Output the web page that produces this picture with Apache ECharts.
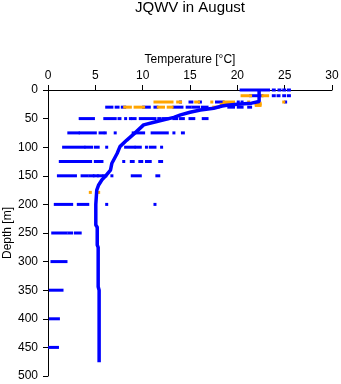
<!DOCTYPE html>
<html>
<head>
<meta charset="utf-8">
<script src="https://cdn.jsdelivr.net/npm/echarts@6/dist/echarts.min.js"></script>
<style>
html,body{margin:0;padding:0;background:#fff;}
#chart{width:341px;height:384px;}
</style>
</head>
<body>
<div id="chart"></div>
<script>
// Temperature ticks and depth ticks
const tempTicks = [0, 5, 10, 15, 20, 25, 30];
const depthTicks = [0, 50, 100, 150, 200, 250, 300, 350, 400, 450, 500];

// Blue observations: runs of points [tempStart, tempEnd, depth]
const blueRuns = [
  [20.4,23.3,0],[23.8,23.9,0],[24.4,24.5,0],[24.9,25.0,0],[25.4,25.5,0],
  [21.4,22.6,10],[23.8,23.9,10],[24.3,24.4,10],[24.9,25.0,10],[25.4,25.5,10],
  [14.0,14.0,21],[15.0,15.2,21],[16.0,16.1,21],[17.8,18.5,21],[20.1,20.1,21],[20.5,20.5,21],[22.2,22.2,21],[25.1,25.1,21],
  [6.2,6.75,30],[7.2,7.4,30],[7.85,8.1,30],[10.1,10.7,30],[11.3,11.5,30],[13.3,14.15,30],[14.7,15.0,30],[15.3,15.9,30],[16.3,16.8,30],[19.1,19.6,30],[20.1,20.5,30],[21.2,21.4,30],
  [3.4,4.8,50],[6.0,7.1,50],[7.5,7.6,50],[8.2,8.2,50],[8.7,8.7,50],[8.9,9.2,50],[9.75,10.1,50],[10.4,11.3,50],[11.7,11.85,50],[12.2,12.6,50],[13.3,13.6,50],[14.0,14.3,50],[15.0,15.4,50],[16.4,16.8,50],
  [2.2,3.2,75],[3.4,5.0,75],[5.5,5.8,75],[6.05,6.05,75],[7.1,7.1,75],[9.0,10.1,75],[11.0,12.6,75],[13.3,13.3,75],[14.2,14.3,75],
  [1.65,3.8,100],[4.0,4.6,100],[5.0,5.3,100],[6.2,6.2,100],[8.2,9.1,100],[9.3,9.75,100],[10.4,10.4,100],[10.8,11.3,100],[12.0,12.0,100],
  [1.3,3.7,125],[3.95,4.5,125],[5.0,5.7,125],[8.0,8.0,125],[8.8,9.0,125],[9.7,9.9,125],[10.4,10.8,125],[11.8,12.0,125],
  [1.1,2.9,150],[3.6,4.1,150],[4.4,4.75,150],[4.9,5.2,150],[5.35,5.7,150],[5.9,6.1,150],[6.75,6.75,150],[8.9,9.75,150],[11.5,11.7,150],
  [0.77,2.5,200],[3.2,4.2,200],[6.2,6.2,200],[11.3,11.3,200],
  [0.5,1.9,250],[2.2,2.5,250],[2.9,3.4,250],
  [0.42,1.9,300],
  [0.25,1.48,350],
  [0.25,1.1,400],
  [0.17,1.0,450]
];

// Orange observations: runs of points [tempStart, tempEnd, depth]
const orangeRuns = [
  [20.5,21.4,10],[22.7,23.2,10],
  [11.3,13.1,21],[13.7,14.0,21],[15.6,15.9,21],[17.3,17.3,21],[18.6,19.6,21],[21.2,21.2,21],[24.9,24.9,21],
  [22.0,22.4,23],[18.3,19.6,25],[22.0,22.4,25],[22.0,22.4,27],
  [8.1,8.7,30],[9.2,10.1,30],[11.65,12.2,30],[12.7,13.1,30],[17.5,18.0,30],
  [4.47,4.47,179],[5.35,5.35,179]
];

// Mean profile [temp, depth]
const profile = [
  [22.3,0],[22.3,20],[21.5,23],[20.0,25],[18.9,26.5],[18.4,28],[17.5,32],[16.1,35],[15.0,39],[14.0,43.5],
  [13.3,47.8],[11.5,55],[10.1,61],[9.2,75],[8.3,88],[7.6,99],[7.3,111],[6.75,128],[6.6,140],[6.05,151],
  [5.7,157],[5.35,166],[5.15,175],[5.05,200],[5.05,236],[5.2,240],[5.2,271],[5.3,275],[5.3,344],[5.4,350],[5.4,476]
];

const chart = echarts.init(document.getElementById('chart'), null, {renderer:'canvas'});
const FONT = 'Liberation Sans';

function runRenderer(color) {
  return function (params, api) {
    const p0 = api.coord([api.value(0), api.value(2)]);
    const p1 = api.coord([api.value(1), api.value(2)]);
    return {
      type: 'rect',
      shape: {x: p0[0] - 1.5, y: p0[1] - 1.5, width: Math.max(p1[0] - p0[0], 0) + 3, height: 3},
      style: {fill: color}
    };
  };
}

chart.setOption({
  animation: false,
  backgroundColor: '#fff',
  title: {
    text: 'JQWV in August',
    left: 190, textAlign: 'center', top: 0, padding: 0,
    textStyle: {fontFamily: FONT, fontSize: 15, fontWeight: 'normal', color: '#000'}
  },
  grid: {left: 48, top: 90, right: 9, bottom: 8, containLabel: false, outerBoundsMode: 'none'},
  xAxis: {
    type: 'value', position: 'top', min: tempTicks[0], max: tempTicks[tempTicks.length-1], interval: 5,
    name: 'Temperature [°C]', nameLocation: 'middle', nameGap: 24, nameMoveOverlap: false,
    nameTextStyle: {fontFamily: FONT, fontSize: 12, color: '#000'},
    axisLine: {show: true, onZero: false, lineStyle: {color: '#000', width: 1}},
    axisTick: {show: true, length: 5, lineStyle: {color: '#000'}},
    axisLabel: {fontFamily: FONT, fontSize: 12, color: '#000', margin: 8},
    splitLine: {show: false}
  },
  yAxis: {
    type: 'value', inverse: true, min: depthTicks[0], max: depthTicks[depthTicks.length-1], interval: 50,
    name: 'Depth [m]', nameLocation: 'middle', nameGap: 34, nameRotate: 90, nameMoveOverlap: false,
    nameTextStyle: {fontFamily: FONT, fontSize: 12, color: '#000'},
    axisLine: {show: true, onZero: false, lineStyle: {color: '#000', width: 1}},
    axisTick: {show: true, length: 5, lineStyle: {color: '#000'}},
    axisLabel: {fontFamily: FONT, fontSize: 12, color: '#000', margin: 10},
    splitLine: {show: false}
  },
  series: [
    {type: 'custom', data: blueRuns, encode: {x: [0, 1], y: 2}, renderItem: runRenderer('#0000ff'), clip: false, z: 2},
    {type: 'custom', data: orangeRuns, encode: {x: [0, 1], y: 2}, renderItem: runRenderer('#ffa500'), clip: false, z: 3},
    {type: 'line', data: profile, showSymbol: false, lineStyle: {color: '#0000ff', width: 3.5}, z: 4}
  ]
});
</script>
</body>
</html>
